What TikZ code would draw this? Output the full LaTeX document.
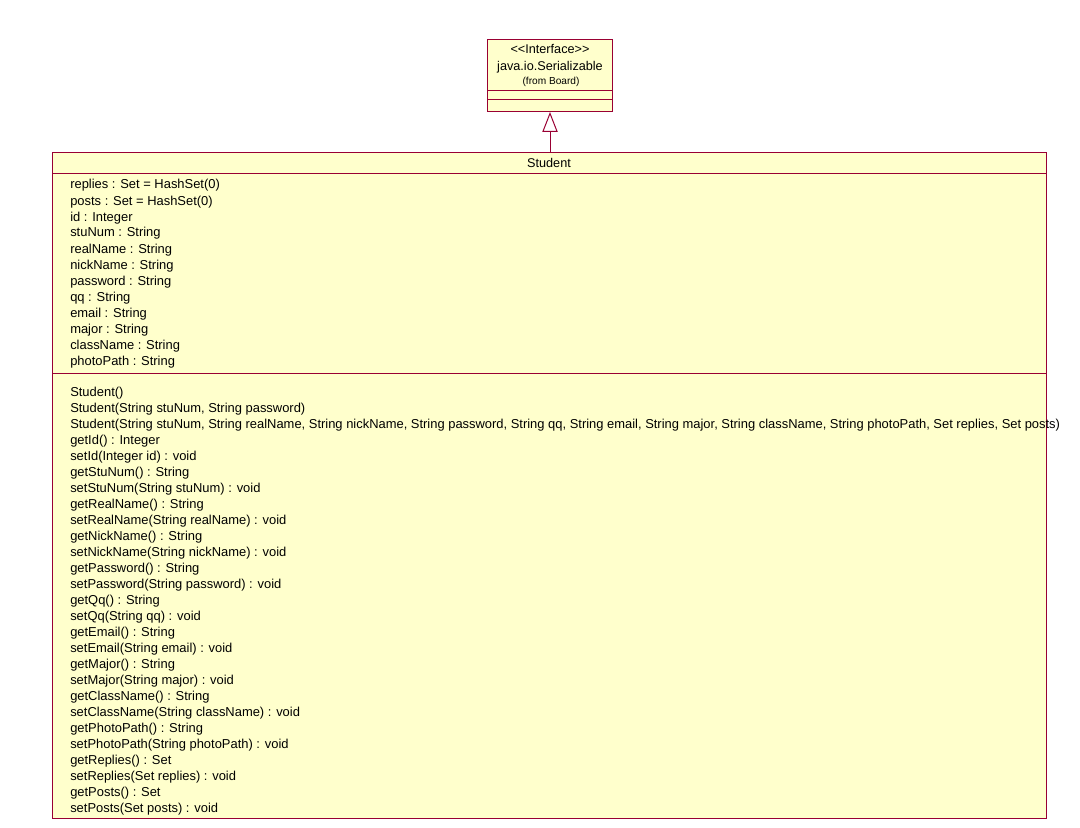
\documentclass[tikz,border=0pt]{standalone}
\usepackage{fontspec}
\setmainfont{Liberation Sans}
\usetikzlibrary{arrows.meta}

\begin{document}
\begin{tikzpicture}[x=0.75pt,y=-0.75pt,
  umlbox/.style={draw=rosered,fill=roseyellow,line width=0.75pt,inner sep=0pt,anchor=north west},
  member/.style={anchor=base west,inner sep=0pt,font=\fontsize{9.7}{10}\selectfont},
  title/.style={anchor=base,inner sep=0pt,font=\fontsize{9.5}{10}\selectfont}]
\definecolor{rosered}{HTML}{990033}
\definecolor{roseyellow}{HTML}{FFFFCC}
\useasboundingbox (0,0) rectangle (1080,827);
% interface box
\node [umlbox,minimum width=93.75pt,minimum height=54pt] (serial) at (487,39) {};
\draw [rosered,line width=0.75pt] (serial.west |- 0,91) -- (serial.east |- 0,91);
\draw [rosered,line width=0.75pt] (serial.west |- 0,100) -- (serial.east |- 0,100);
\node [title] (serialStereo) at (550,54) {{<}{<}Interface{>}{>}};
\node [title] (serialName) at (550,71) {java.io.Serializable};
\node [title,font=\fontsize{7.6}{8}\selectfont] (serialFrom) at (551,85) {(from Board)};
% class box
\node [umlbox,minimum width=745.5pt,minimum height=499.5pt] (student) at (52,152) {};
\draw [rosered,line width=0.75pt] (student.west |- 0,174) -- (student.east |- 0,174);
\draw [rosered,line width=0.75pt] (student.west |- 0,373) -- (student.east |- 0,373);
\node [title] (studentName) at (549,168) {Student};
% generalization
\draw [rosered,line width=0.75pt,-{Triangle[open,width=11.5pt,length=15pt]}] (student.north -| serial.south) -- (serial.south);
% attributes
\foreach \txt [count=\i] in {replies : Set = HashSet(0), posts : Set = HashSet(0), id : Integer,
  stuNum : String, realName : String, nickName : String, password : String, qq : String,
  email : String, major : String, className : String, photoPath : String}
  {  \node [member] (attr\i) at (70,173+16*\i) {\txt};}
% operations
\foreach \txt [count=\i] in {Student(), {Student(String stuNum, String password)},
  {Student(String stuNum, String realName, String nickName, String password, String qq, String email, String major, String className, String photoPath, Set replies, Set posts)},
  getId() : Integer, setId(Integer id) : void, getStuNum() : String, setStuNum(String stuNum) : void,
  getRealName() : String, setRealName(String realName) : void, getNickName() : String,
  setNickName(String nickName) : void, getPassword() : String, setPassword(String password) : void,
  getQq() : String, setQq(String qq) : void, getEmail() : String, setEmail(String email) : void,
  getMajor() : String, setMajor(String major) : void, getClassName() : String,
  setClassName(String className) : void, getPhotoPath() : String,
  setPhotoPath(String photoPath) : void, getReplies() : Set, setReplies(Set replies) : void,
  getPosts() : Set, setPosts(Set posts) : void}
  {  \node [member] (oper\i) at (70,380.5+16*\i) {\txt};}
\end{tikzpicture}
\end{document}
